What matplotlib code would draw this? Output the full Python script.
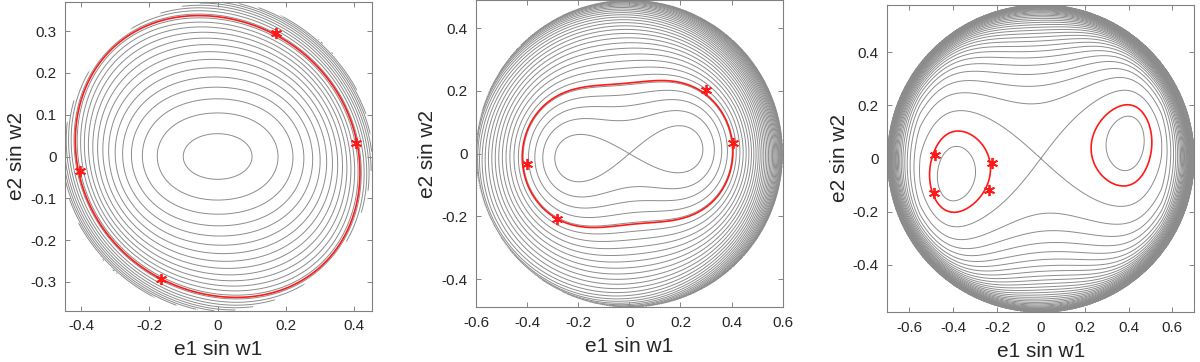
import numpy as np
import matplotlib.pyplot as plt

plt.rcParams['font.family'] = ['Liberation Sans', 'DejaVu Sans']
plt.rcParams['axes.unicode_minus'] = False
plt.rcParams['contour.negative_linestyle'] = 'solid'

# red marked points (e1 sin w1, e2 sin w2)
p1_x = [0.172, 0.406, -0.402, -0.167]
p1_y = [0.296, 0.032, -0.034, -0.294]
p2_x = [-0.401, -0.284, 0.300, 0.405]
p2_y = [-0.034, -0.208, 0.203, 0.033]
p3_x = [-0.484, -0.221, -0.235, -0.486]
p3_y = [0.013, -0.018, -0.119, -0.129]

# axis limits and ticks
p1_xlim, p1_ylim = (-0.447, 0.452), (-0.370, 0.370)
p2_xlim, p2_ylim = (-0.60, 0.60), (-0.49, 0.49)
p3_xlim, p3_ylim = (-0.70, 0.70), (-0.58, 0.58)
p1_xticks = [-0.4, -0.2, 0, 0.2, 0.4]
p1_yticks = [-0.3, -0.2, -0.1, 0, 0.1, 0.2, 0.3]
p2_xticks = [-0.6, -0.4, -0.2, 0, 0.2, 0.4, 0.6]
p2_yticks = [-0.4, -0.2, 0, 0.2, 0.4]
p3_xticks = [-0.6, -0.4, -0.2, 0, 0.2, 0.4, 0.6]
p3_yticks = [-0.4, -0.2, 0, 0.2, 0.4]

# level-curve models of the panels and their (first level, step)
p1_par = dict(lam=0.194, mu=-0.194, m=2.0, E=0.0, kappa=0.3, tau=0.0, phi=0.0, rw=1.05)
p2_par = dict(lam=0.865, mu=-0.248, m=1.85, E=-0.2, kappa=0.0, tau=0.35, phi=25.0, rw=1.0)
p3_par = dict(k=0.47, s0=0.618, c2=0.24, c4=0.48, E=-0.1, cg=1.75, tau=0.15, phi=15.0)
p1_lev = (0.014, 0.036)
p2_lev = (0.0, 0.035)
p3_lev = (0.0, 0.039)


def energy(x, y, a, b, lam, mu, m, E, kappa, tau, phi, rw):
    u = x / a
    v = y / b
    r2 = u**2 + v**2
    w = np.clip(1 - r2 / rw**2, 0, None)
    c, s = np.cos(np.radians(phi)), np.sin(np.radians(phi))
    h = ((1 - np.sqrt(w)) * (1 + tau * (u * c + v * s) * r2**2)
         - (lam * u**2 + mu * v**2) * w**m + E * u * v * w**m
         + kappa * u * v * r2**2)
    return np.where(r2 <= 1, h, np.nan)


def energy_wells(x, y, a, b, k, s0, c2, c4, E, cg, tau, phi):
    # double well along e1 sin w1, damped near the rim where a steep wall takes over
    u = x / a
    v = y / b
    su = u**2
    r2 = su + v**2
    q = np.clip(r2, 0, 1)**8
    c, s = np.cos(np.radians(phi)), np.sin(np.radians(phi))
    wall_u = cg * (1 - np.sqrt(1 - np.minimum(su, s0)**8))
    inner = -k * su * (s0 - su) - wall_u + c2 * v**2 + c4 * v**4 + E * u * v
    wall = cg * (1 - np.sqrt(1 - q)) * (1 + tau * (u * c + v * s) * r2**2)
    h = (1 - q) * inner + wall
    return np.where(r2 <= 1, h, np.nan)


def panel(rect, xlim, ylim, func, par, lev, px, py, xticks, yticks):
    ax = fig.add_axes(rect)
    a = max(-xlim[0], xlim[1])
    b = max(-ylim[0], ylim[1])
    gx = np.linspace(xlim[0], xlim[1], 900)
    gy = np.linspace(ylim[0], ylim[1], 900)
    X, Y = np.meshgrid(gx, gy)
    H = func(X, Y, a, b, **par)
    start, step = lev
    lo = start - step * np.floor((start - np.nanmin(H)) / step)
    levels = np.arange(lo, np.nanmax(H), step)
    ax.contour(X, Y, H, levels=levels, colors='0.55', linewidths=0.7)
    red = np.mean(func(np.array(px), np.array(py), a, b, **par))
    ax.contour(X, Y, H, levels=[red], colors='#ff1a1a', linewidths=1.2)
    ax.plot(px, py, linestyle='none', marker=(6, 2, 0), color='#ff1a1a',
            markersize=8, markeredgewidth=1.3)
    ax.set_xlim(xlim)
    ax.set_ylim(ylim)
    ax.set_xticks(xticks)
    ax.set_yticks(yticks)
    ax.set_xticklabels(['%g' % t for t in xticks])
    ax.set_yticklabels(['%g' % t for t in yticks])
    ax.tick_params(direction='in', top=True, right=True, length=3.5, width=0.6,
                   color='0.45', labelcolor='0.15', labelsize=11)
    ax.tick_params(axis='x', pad=6)
    ax.tick_params(axis='y', pad=6)
    for sp in ax.spines.values():
        sp.set_color('0.5')
        sp.set_linewidth(0.8)
    ax.set_xlabel('e1 sin w1', fontsize=15, color='0.15', labelpad=5)
    ax.set_ylabel('e2 sin w2', fontsize=15, color='0.15', labelpad=3)
    return ax


fig = plt.figure(figsize=(12, 3.62), dpi=100)
panel([65 / 1200, 51 / 362, 307 / 1200, 309 / 362], p1_xlim, p1_ylim, energy, p1_par,
      p1_lev, p1_x, p1_y, p1_xticks, p1_yticks)
panel([476 / 1200, 54.7 / 362, 306.7 / 1200, 307.3 / 362], p2_xlim, p2_ylim, energy, p2_par,
      p2_lev, p2_x, p2_y, p2_xticks, p2_yticks)
panel([887.3 / 1200, 49.7 / 362, 307 / 1200, 307.6 / 362], p3_xlim, p3_ylim, energy_wells,
      p3_par, p3_lev, p3_x, p3_y, p3_xticks, p3_yticks)
fig.savefig('out.png', dpi=100)
